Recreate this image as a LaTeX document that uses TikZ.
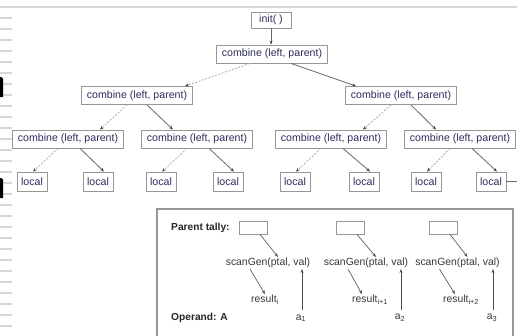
\documentclass[tikz,border=0pt]{standalone}
\usepackage{fontspec}
\setmainfont{Liberation Sans}
\usetikzlibrary{arrows.meta}

\definecolor{treeink}{RGB}{45,45,95}
\definecolor{panelink}{RGB}{55,55,55}
\definecolor{boxline}{RGB}{150,150,150}
\definecolor{edgegray}{RGB}{105,105,105}
\definecolor{dashgray}{RGB}{175,175,175}
\definecolor{rulegray}{RGB}{215,215,215}

\tikzset{
  tip/.style={-{Stealth[length=4pt,width=3pt,color=black!75]}},
  callbox/.style={draw=boxline, line width=0.8pt, fill=white, text=treeink,
    font=\fontsize{10.6}{12}\selectfont, inner sep=0pt,
    minimum width=111pt, minimum height=18pt},
  localbox/.style={callbox, minimum width=30pt, minimum height=19pt},
  initbox/.style={callbox, minimum width=40pt, minimum height=16pt},
  leftedge/.style={tip, draw=dashgray, line width=0.8pt, dash pattern=on 2pt off 1.5pt},
  rightedge/.style={tip, draw=edgegray, line width=0.8pt},
  tallybox/.style={draw=boxline, line width=0.8pt, fill=white, inner sep=0pt,
    minimum width=28pt, minimum height=13pt},
  callabel/.style={text=panelink, font=\fontsize{10.4}{12}\selectfont, inner sep=1pt},
  headlabel/.style={text=black!85, font=\bfseries\fontsize{10.2}{12}\selectfont, inner sep=0pt},
  panelarrow/.style={-{Stealth[length=4pt,width=3pt]}, draw=black!70, line width=0.6pt},
}

\begin{document}
\begin{tikzpicture}[x=1pt, y=-1pt]
\useasboundingbox (0,0) rectangle (517,335);
\fill[white] (0,0) rectangle (517,335);

% page furniture: rule along the top, ruler ticks down the left edge
\draw[rulegray, line width=2pt] (0,7) -- (517,7);
\foreach \k in {0,...,28}
  \draw[rulegray, line width=1.8pt] (0,18+11*\k) -- (12,18+11*\k);
\fill[black] (0,77) -- (1,77) .. controls (3.2,78) .. (3.2,82) -- (3.2,97) -- (0,97) -- cycle;
\fill[black] (0,178) -- (1,178) .. controls (3.2,179) .. (3.2,183) -- (3.2,198) -- (0,198) -- cycle;

% combining tree
\node[initbox] (init) at (271,20) {init( )};
\node[callbox] (root) at (272,54) {combine (left, parent)};
\node[callbox] (L)  at (137,95.5) {combine (left, parent)};
\node[callbox] (R)  at (401,95.5) {combine (left, parent)};
\node[callbox] (LL) at (68,139)  {combine (left, parent)};
\node[callbox] (LR) at (197,139) {combine (left, parent)};
\node[callbox] (RL) at (331,139) {combine (left, parent)};
\node[callbox] (RR) at (460,139) {combine (left, parent)};

\node[localbox] (l1) at (32,181.5)  {local};
\node[localbox] (l2) at (98,181.5)  {local};
\node[localbox] (l3) at (161,181.5) {local};
\node[localbox] (l4) at (228,181.5) {local};
\node[localbox] (l5) at (295,181.5) {local};
\node[localbox] (l6) at (364,181.5) {local};
\node[localbox] (l7) at (426,181.5) {local};
\node[localbox] (l8) at (491,181.5) {local};
\coordinate (edgeout) at (517,181.5);

\draw[rightedge] (init.south) -- (init.south |- root.north);
\draw[leftedge]  ([xshift=-22pt]root.south) -- ([xshift=48pt]L.north);
\draw[rightedge] ([xshift=19pt]root.south)  -- ([xshift=-45pt]R.north);

\foreach \p/\a/\b in {L/LL/LR, R/RL/RR} {
  \draw[leftedge]  ([xshift=-10pt]\p.south) -- ([xshift=32pt]\a.north);
  \draw[rightedge] ([xshift=10pt]\p.south)  -- ([xshift=-24pt]\b.north);
}
\foreach \p/\a/\b in {LL/l1/l2, LR/l3/l4, RL/l5/l6, RR/l7/l8} {
  \draw[leftedge]  ([xshift=-10pt]\p.south) -- ([xshift=1pt]\a.north);
  \draw[rightedge] ([xshift=12pt]\p.south)  -- ([xshift=6pt]\b.north);
}
\draw[edgegray, line width=0.8pt] (l8.east) -- (edgeout);

% scan panel
\draw[boxline, line width=1.2pt] (157,340) -- (157,209) -- (513,209) -- (513,340);

\node[headlabel, anchor=west] (ptally) at (171,228) {Parent tally:};
\node[headlabel, anchor=west] (operand) at (171,318) {Operand: A};

\node[tallybox] (t1) at (253,227.5) {};
\node[tallybox] (t2) at (350,227.5) {};
\node[tallybox] (t3) at (443,227.5) {};

\node[callabel] (s1) at (268,263)   {scanGen(ptal, val)};
\node[callabel] (s2) at (366,263)   {scanGen(ptal, val)};
\node[callabel] (s3) at (457.5,263) {scanGen(ptal, val)};

\node[callabel] (r1) at (265,300) {result\textsubscript{i}};
\node[callabel] (r2) at (370,300) {result\textsubscript{i+1}};
\node[callabel] (r3) at (461,300) {result\textsubscript{i+2}};

\node[callabel] (a1) at (301,318) {a\textsubscript{1}};
\node[callabel] (a2) at (400,318) {a\textsubscript{2}};
\node[callabel] (a3) at (492,318) {a\textsubscript{3}};

\foreach \t/\s in {t1/s1, t2/s2, t3/s3}
  \draw[panelarrow] ([xshift=7pt]\t.south) -- ([xshift=10pt]\s.north);
\draw[panelarrow] ([xshift=-18pt]s1.south) -- (r1.north);
\draw[panelarrow] ([xshift=-18pt]s2.south) -- ([xshift=-8pt]r2.north);
\draw[panelarrow] ([xshift=-18pt]s3.south) -- ([xshift=-6pt]r3.north);
\foreach \a/\s in {a1/s1, a2/s2, a3/s3}
  \draw[panelarrow] ([xshift=1pt,yshift=3pt]\a.north) -- ([xshift=1pt]\a.north |- \s.south);
\end{tikzpicture}
\end{document}
